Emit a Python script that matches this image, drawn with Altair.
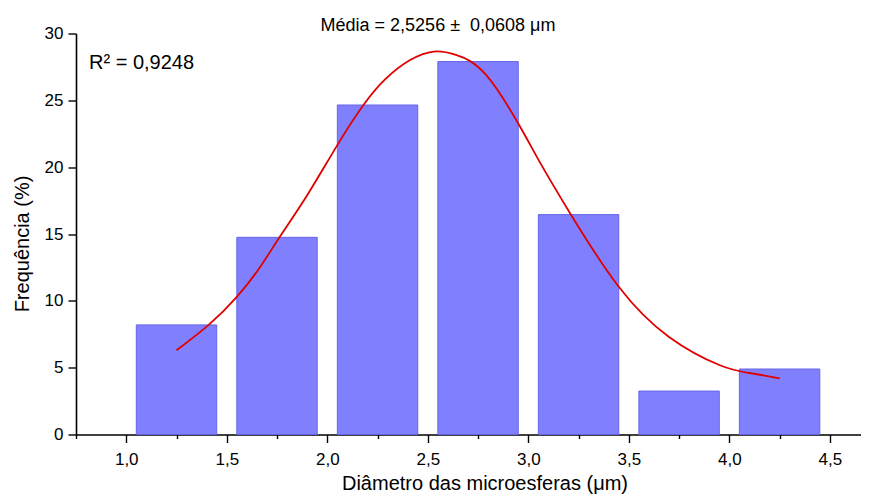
import altair as alt
import pandas as pd

# Histogram bins (diameter, µm) and frequencies (%)
bin_left = [1.05, 1.55, 2.05, 2.55, 3.05, 3.55, 4.05]
bin_right = [1.45, 1.95, 2.45, 2.95, 3.45, 3.95, 4.45]
freq = [8.2, 14.75, 24.65, 27.9, 16.45, 3.25, 4.9]

# Gaussian fit curve
fit_x = [1.25, 1.41, 1.55, 1.66, 1.76, 1.90, 2.05, 2.18, 2.29, 2.41, 2.53,
         2.64, 2.79, 2.96, 3.06, 3.21, 3.45, 3.70, 3.95, 4.10, 4.25]
fit_y = [6.3, 8.2, 10.3, 12.4, 14.7, 17.9, 21.65, 24.65, 26.6, 28.0, 28.65,
         28.4, 26.9, 23.0, 20.3, 16.5, 11.05, 7.3, 5.2, 4.6, 4.2]

x_ticks = [0.75, 1.0, 1.25, 1.5, 1.75, 2.0, 2.25, 2.5, 2.75, 3.0, 3.25, 3.5,
           3.75, 4.0, 4.25, 4.5]
y_ticks = [0, 2.5, 5, 7.5, 10, 12.5, 15, 17.5, 20, 22.5, 25, 27.5, 30]

title_text = "Média = 2,5256 ±\u00a0\u00a00,0608 μm"
r2_text = "R² = 0,9248"

FONT = "Liberation Sans"
W, H = 785, 401

bars_df = pd.DataFrame({"x0": bin_left, "x1": bin_right, "f": freq})
fit_df = pd.DataFrame({"x": fit_x, "y": fit_y})

x_scale = alt.Scale(domain=[0.75, 4.655], nice=False, zero=False)
y_scale = alt.Scale(domain=[0, 30], nice=False)

x_axis = alt.Axis(
    values=x_ticks,
    labelExpr="datum.value % 0.5 === 0 ? replace(format(datum.value, '.1f'), '.', ',') : ''",
    tickSize={"condition": {"test": "datum.value % 0.5 === 0", "value": 8}, "value": 4},
    title="Diâmetro das microesferas (μm)",
    titleX=408.5, titleY=55, titleAlign="center", titleBaseline="alphabetic",
    labelPadding=9, grid=False,
)
y_axis = alt.Axis(
    values=y_ticks,
    labelExpr="datum.value % 5 === 0 ? datum.value : ''",
    tickSize={"condition": {"test": "datum.value % 5 === 0", "value": 8}, "value": 4},
    title="Frequência (%)",
    titleX=-54, titleY=210, titleAngle=-90, titleAlign="center", titleBaseline="middle",
    labelPadding=5, grid=False,
)

bars = alt.Chart(bars_df).mark_rect(
    fill="#8080ff", stroke="#6464e8", strokeWidth=1
).encode(
    x=alt.X("x0:Q", scale=x_scale, axis=x_axis),
    x2="x1:Q",
    y=alt.Y("f:Q", scale=y_scale, axis=y_axis),
    y2=alt.datum(0),
)

curve = alt.Chart(fit_df).mark_line(
    color="#e00000", strokeWidth=1.8, interpolate="natural"
).encode(
    x=alt.X("x:Q", scale=x_scale),
    y=alt.Y("y:Q", scale=y_scale),
)

title = alt.Chart(pd.DataFrame({"t": [title_text]})).mark_text(
    font=FONT, fontSize=18, align="center", baseline="alphabetic", color="black"
).encode(text="t:N", x=alt.value(362), y=alt.value(-2.5))

r2 = alt.Chart(pd.DataFrame({"t": [r2_text]})).mark_text(
    font=FONT, fontSize=20, align="left", baseline="alphabetic", color="black"
).encode(text="t:N", x=alt.value(13), y=alt.value(35.5))

chart = alt.layer(bars, curve, title, r2).properties(
    width=W, height=H,
    autosize=alt.AutoSizeParams(type="none"),
    padding={"left": 68, "top": 25.5, "right": 0, "bottom": 60},
).configure_view(stroke=None).configure_axis(
    labelFont=FONT, titleFont=FONT, labelFontSize=17, titleFontSize=20,
    labelColor="black", titleColor="black", titleFontWeight="normal",
    domainColor="black", tickColor="black", domainWidth=1.6, tickWidth=1.4,
    labelFlush=False, labelOverlap=False,
)

chart.save("out.html", embed_options={"renderer": "svg", "actions": False})
